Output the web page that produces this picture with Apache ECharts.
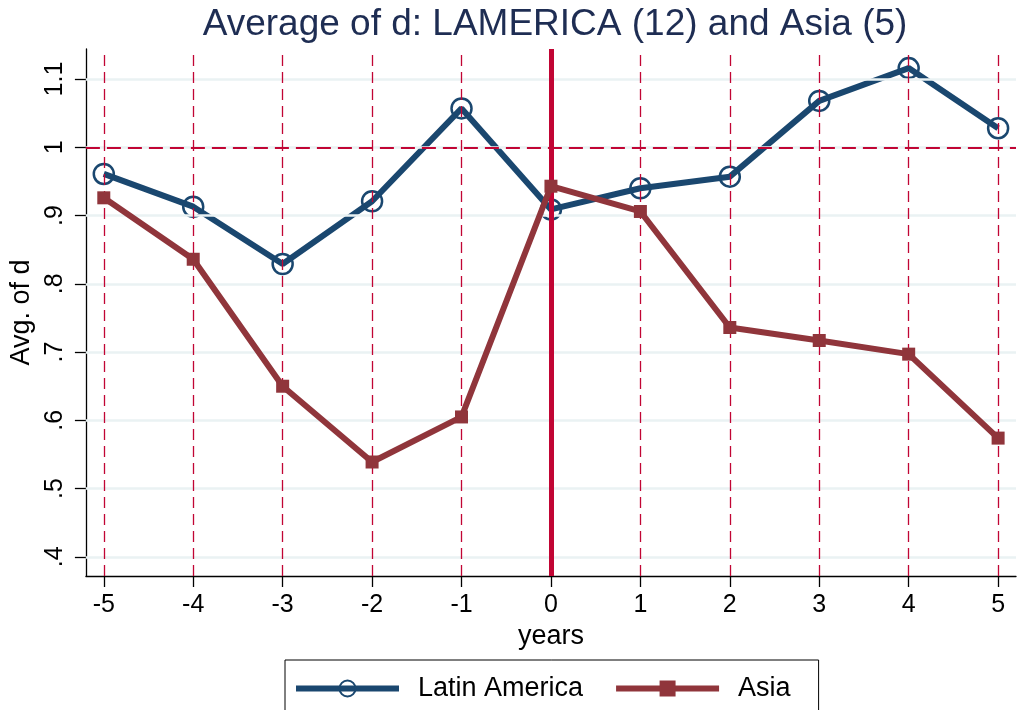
<!DOCTYPE html>
<html><head><meta charset="utf-8">
<script src="https://cdn.jsdelivr.net/npm/echarts@6/dist/echarts.min.js"></script>
<style>html,body{margin:0;padding:0;background:#fff}#c{width:1020px;height:710px}</style>
</head><body><div id="c"></div>
<script>
const years = [-5,-4,-3,-2,-1,0,1,2,3,4,5];
const latinAmerica = [0.961,0.913,0.829,0.921,1.057,0.909,0.940,0.957,1.068,1.116,1.028];
const asia = [0.926,0.836,0.650,0.539,0.605,0.943,0.906,0.736,0.717,0.697,0.574];
const yTicks = [0.4,0.5,0.6,0.7,0.8,0.9,1.0,1.1];
const xTicks = [-5,-4,-3,-2,-1,0,1,2,3,4,5];
const refY = 1;
const eventX = 0;

const FONT = 'Liberation Sans';
const RED = '#c10534';
const fmtY = v => { let s = (Math.round(v*10)/10).toString(); return s.replace(/^0\./,'.'); };

const chart = echarts.init(document.getElementById('c'));
chart.setOption({
  animation: false,
  backgroundColor: '#fff',
  textStyle: {fontFamily: FONT},
  title: {
    text: 'Average of d: LAMERICA (12) and Asia (5)',
    left: 550, top: 1, textAlign: 'center',
    textStyle: {fontFamily: FONT, fontSize: 37, fontWeight: 'normal', color: '#1e2d53'}
  },
  grid: {left: 85, right: 4, top: 49, bottom: 134},
  legend: {
    top: 660, left: 285,
    padding: [15, 28, 40, 8],
    borderColor: '#000', borderWidth: 1, borderRadius: 0,
    itemWidth: 103, itemHeight: 20, itemGap: 30,
    lineStyle: {width: 6},
    textStyle: {fontFamily: FONT, fontSize: 27, color: '#000', padding: [0,0,0,14]},
    data: ['Latin America', 'Asia']
  },
  xAxis: {
    type: 'value', min: -5.2, max: 5.2,
    name: 'years', nameLocation: 'middle', nameGap: 43,
    nameTextStyle: {fontFamily: FONT, fontSize: 27, color: '#000'},
    axisLine: {onZero: false, lineStyle: {color: '#000', width: 1.3}},
    axisTick: {customValues: xTicks, length: 11, lineStyle: {color: '#000', width: 1.3}},
    axisLabel: {customValues: xTicks, margin: 17, fontSize: 25, color: '#000', fontFamily: FONT},
    splitLine: {show: false}
  },
  yAxis: {
    type: 'value', min: 0.372, max: 1.144,
    name: 'Avg. of d', nameLocation: 'middle', nameGap: 41, nameRotate: 90,
    nameTextStyle: {fontFamily: FONT, fontSize: 27, color: '#000'},
    axisLine: {show: true, onZero: false, lineStyle: {color: '#000', width: 1.3}},
    axisTick: {show: true, customValues: yTicks, length: 11, lineStyle: {color: '#000', width: 1.3}},
    axisLabel: {customValues: yTicks, rotate: 90, margin: 18, fontSize: 25, color: '#000', fontFamily: FONT, formatter: fmtY},
    splitLine: {show: false}
  },
  series: [
    {
      name: 'grid', type: 'line', data: [], z: 1, silent: true,
      markLine: {
        silent: true, symbol: 'none', label: {show: false}, animation: false,
        lineStyle: {color: '#eaf2f3', width: 2.5, type: 'solid'},
        data: yTicks.map(v => ({yAxis: v}))
      }
    },
    {
      name: 'vlines', type: 'line', data: [], z: 2, silent: true,
      markLine: {
        silent: true, symbol: 'none', label: {show: false}, animation: false,
        lineStyle: {color: RED, width: 1.3, type: [11, 6]},
        data: xTicks.filter(v => v !== eventX).map(v => ({xAxis: v}))
          .concat([{yAxis: refY, lineStyle: {width: 2.2, type: [14, 7]}}])
      }
    },
    {
      name: 'Latin America', type: 'line', z: 3,
      data: years.map((x,i) => [x, latinAmerica[i]]),
      symbol: 'circle', symbolSize: 20,
      lineStyle: {color: '#1a476f', width: 6},
      itemStyle: {color: 'rgba(255,255,255,0)', borderColor: '#1a476f', borderWidth: 2.5}
    },
    {
      name: 'event', type: 'line', data: [], z: 4, silent: true,
      markLine: {
        silent: true, symbol: 'none', label: {show: false}, animation: false,
        lineStyle: {color: RED, width: 5, type: 'solid'},
        data: [{xAxis: eventX}]
      }
    },
    {
      name: 'Asia', type: 'line', z: 5,
      data: years.map((x,i) => [x, asia[i]]),
      symbol: 'rect', symbolSize: 13,
      lineStyle: {color: '#90353b', width: 6},
      itemStyle: {color: '#90353b'}
    }
  ]
});
</script></body></html>
